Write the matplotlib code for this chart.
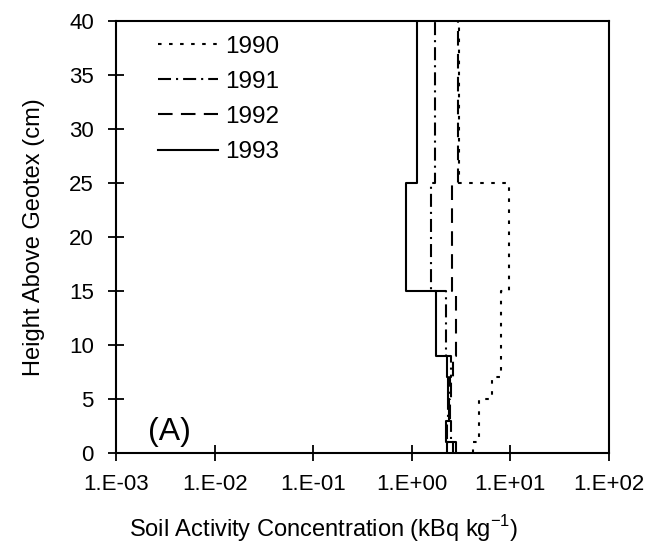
import matplotlib
matplotlib.use("Agg")
import matplotlib.pyplot as plt
import numpy as np
from matplotlib.ticker import FixedLocator, FuncFormatter, NullLocator

plt.rcParams['font.family'] = ['Liberation Sans', 'DejaVu Sans']

# Layer boundaries (cm above geotex) and activity values (kBq/kg)
bounds_1990 = [0, 1, 5, 7, 15, 25, 40]
vals_1990 = [4.15, 4.8, 6.5, 8.0, 9.6, 3.0]

bounds_other = [0, 1, 3, 5, 7, 9, 15, 25, 40]
vals_1991 = [2.3, 2.5, 2.35, 2.45, 2.5, 2.2, 1.56, 1.71]
vals_1992 = [2.8, 2.3, 2.45, 2.5, 2.6, 2.8, 2.54, 2.93]
vals_1993 = [2.6, 2.2, 2.4, 2.35, 2.25, 1.75, 0.87, 1.12]

series = [
    ("1990", bounds_1990, vals_1990, (0, (1.7, 3.6))),
    ("1991", bounds_other, vals_1991, (0, (6.25, 2.4, 1, 2.4))),
    ("1992", bounds_other, vals_1992, (0, (7, 4))),
    ("1993", bounds_other, vals_1993, "-"),
]

xticks = [1e-3, 1e-2, 1e-1, 1e0, 1e1, 1e2]
xtick_labels = ["1.E-03", "1.E-02", "1.E-01", "1.E+00", "1.E+01", "1.E+02"]
yticks = [0, 5, 10, 15, 20, 25, 30, 35, 40]

fig = plt.figure(figsize=(6.47, 5.42), dpi=100)
ax = fig.add_axes([116 / 647, 89 / 542, 493 / 647, 432 / 542])

def step_profile(bounds, vals):
    xs, ys = [], []
    for i, v in enumerate(vals):
        xs += [v, v]
        ys += [bounds[i], bounds[i + 1]]
    return xs, ys

for label, b, v, ls in series:
    xs, ys = step_profile(b, v)
    ax.plot(xs, ys, color="black", linestyle=ls, linewidth=1.5, label=label)

ax.set_xscale("log")
ax.set_xlim(1e-3, 1e2)
ax.set_ylim(0, 40)
ax.xaxis.set_major_locator(FixedLocator(xticks))
ax.xaxis.set_major_formatter(FuncFormatter(lambda x, pos: xtick_labels[xticks.index(x)] if x in xticks else ""))
ax.xaxis.set_minor_locator(NullLocator())
ax.set_yticks(yticks)

for s in ax.spines.values():
    s.set_linewidth(1.5)
ax.tick_params(axis="both", which="major", direction="inout", length=12, width=1.3,
               labelsize=16)
ax.tick_params(axis="x", pad=9)
ax.tick_params(axis="y", pad=10)

ax.set_xlabel("Soil Activity Concentration (kBq kg$^{\\mathregular{-1}}$)", fontsize=17)
ax.xaxis.set_label_coords(0.422, -0.138)
ax.set_ylabel("Height Above Geotex (cm)", fontsize=17, labelpad=17)

ax.text(0.065, 0.03, "(A)", transform=ax.transAxes, fontsize=23, ha="left", va="baseline")

leg = ax.legend(loc="upper left", frameon=False, fontsize=17.5, handlelength=2.47,
                handletextpad=0.29, labelspacing=0.54, bbox_to_anchor=(0.056, 1.0),
                borderaxespad=0.2)

fig.savefig("out.png", dpi=100)
